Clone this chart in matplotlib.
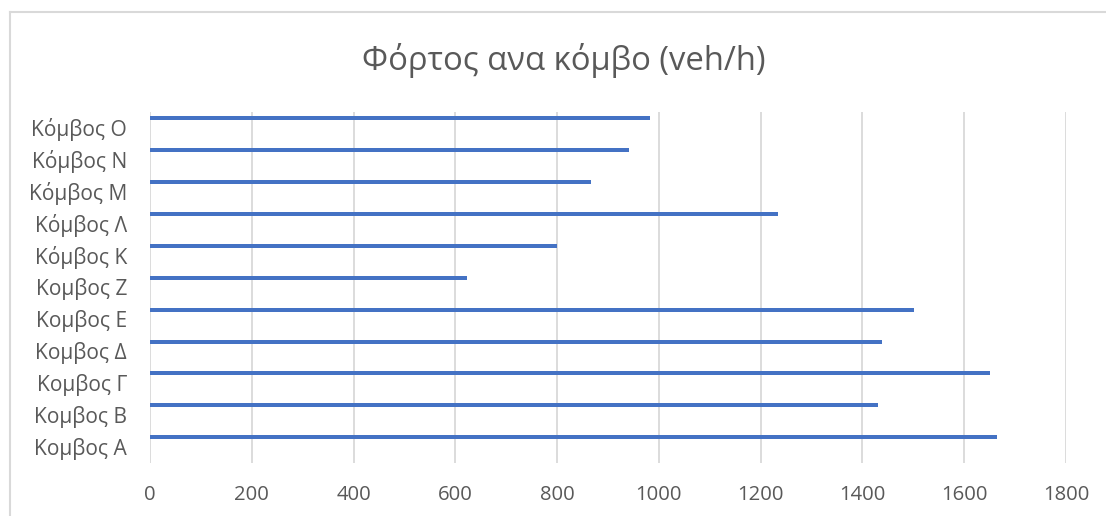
import matplotlib
matplotlib.use("Agg")
import matplotlib.pyplot as plt
from matplotlib.lines import Line2D
import numpy as np

plt.rcParams['font.family'] = ['Open Sans', 'DejaVu Sans']

# Traffic load per node, bottom to top
nodes = ["Κομβος Α", "Κομβος Β", "Κομβος Γ", "Κομβος Δ", "Κομβος Ε",
         "Κομβος Ζ", "Κόμβος Κ", "Κόμβος Λ", "Κόμβος Μ", "Κόμβος Ν", "Κόμβος Ο"]
load = [1665, 1431, 1650, 1438, 1502, 622, 800, 1235, 867, 942, 983]
xticks = [0, 200, 400, 600, 800, 1000, 1200, 1400, 1600, 1800]
title = "Φόρτος ανα κόμβο (veh/h)"

W, H = 1106, 516
fig = plt.figure(figsize=(W / 100, H / 100), dpi=100)
ax = fig.add_axes([150 / W, 1 - 462.5 / H, (1066 - 150) / W, (462.5 - 111.5) / H])

text_color = "#595959"
grid_color = "#d9d9d9"
bar_color = "#4472C4"

y = np.arange(len(nodes))
ax.barh(y + 0.29, load, height=0.125, color=bar_color, zorder=3)

ax.set_xlim(0, 1800)
ax.set_ylim(-0.5, len(nodes) - 0.5)
ax.set_xticks(xticks)
ax.set_xticklabels([str(v) for v in xticks])
ax.set_yticks(y)
ax.set_yticklabels(nodes)

ax.grid(axis="x", color=grid_color, linewidth=1.3, zorder=0)
ax.grid(axis="y", visible=False)
for s in ax.spines.values():
    s.set_visible(False)
ax.tick_params(axis="x", length=0, colors=text_color, labelsize=14.6, pad=16)
ax.tick_params(axis="y", length=0, colors=text_color, labelsize=15.1, pad=16.5)

fig.text(563.5 / W, 1 - 60 / H, title, ha="center", va="center",
         fontsize=23.6, color=text_color)

# chart frame (top and left edges visible)
fig.add_artist(Line2D([10 / W, 1.0], [1 - 12 / H, 1 - 12 / H],
                      transform=fig.transFigure, color=grid_color, linewidth=1.5))
fig.add_artist(Line2D([10 / W, 10 / W], [0.0, 1 - 12 / H],
                      transform=fig.transFigure, color=grid_color, linewidth=1.5))

fig.savefig("out.png", dpi=100, facecolor="white")
